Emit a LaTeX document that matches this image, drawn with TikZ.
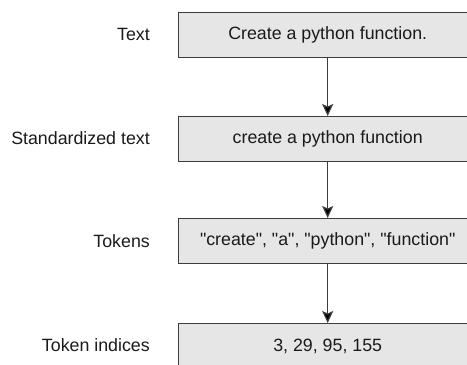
\documentclass[tikz,border=0pt]{standalone}
\usepackage{fontspec}
\setmainfont{Liberation Sans}[Ligatures=TeXOff]
\usetikzlibrary{arrows.meta}
\definecolor{boxfill}{HTML}{E6E6E6}
\definecolor{boxline}{HTML}{3C3C3C}
\definecolor{labeltext}{HTML}{1A1A1A}
\tikzset{
  stagebox/.style={draw=boxline, fill=boxfill, line width=1.4pt,
    minimum width=298pt, minimum height=45pt, inner sep=0pt,
    anchor=north west, text=labeltext,
    font=\fontsize{17.8pt}{20pt}\selectfont},
  stagelabel/.style={anchor=east, inner sep=0pt, text=labeltext,
    font=\fontsize{17.8pt}{20pt}\selectfont},
  flow/.style={draw=boxline, line width=1.2pt,
    -{Stealth[length=12pt, width=11pt, inset=2.5pt, fill=black]}}
}
\begin{document}
\begin{tikzpicture}[x=1pt, y=-1pt]
  \useasboundingbox (0,0) rectangle (467,365);
  % processing stages, top to bottom
  \node[stagebox] (text)  at (178,12)  {Create a python function.};
  \node[stagebox] (std)   at (178,116) {create a python function};
  \node[stagebox] (tok)   at (178,218) {"create", "a", "python", "function"};
  \node[stagebox] (idx)   at (178,323) {3, 29, 95, 155};
  % stage names on the left
  \node[stagelabel] (ltext) at (150,34)  {Text};
  \node[stagelabel] (lstd)  at (150,138) {Standardized text};
  \node[stagelabel] (ltok)  at (150,241) {Tokens};
  \node[stagelabel] (lidx)  at (150,345) {Token indices};
  % connectors
  \draw[flow] (text.south) -- (std.north);
  \draw[flow] (std.south) -- (tok.north);
  \draw[flow] (tok.south) -- (idx.north);
\end{tikzpicture}
\end{document}
